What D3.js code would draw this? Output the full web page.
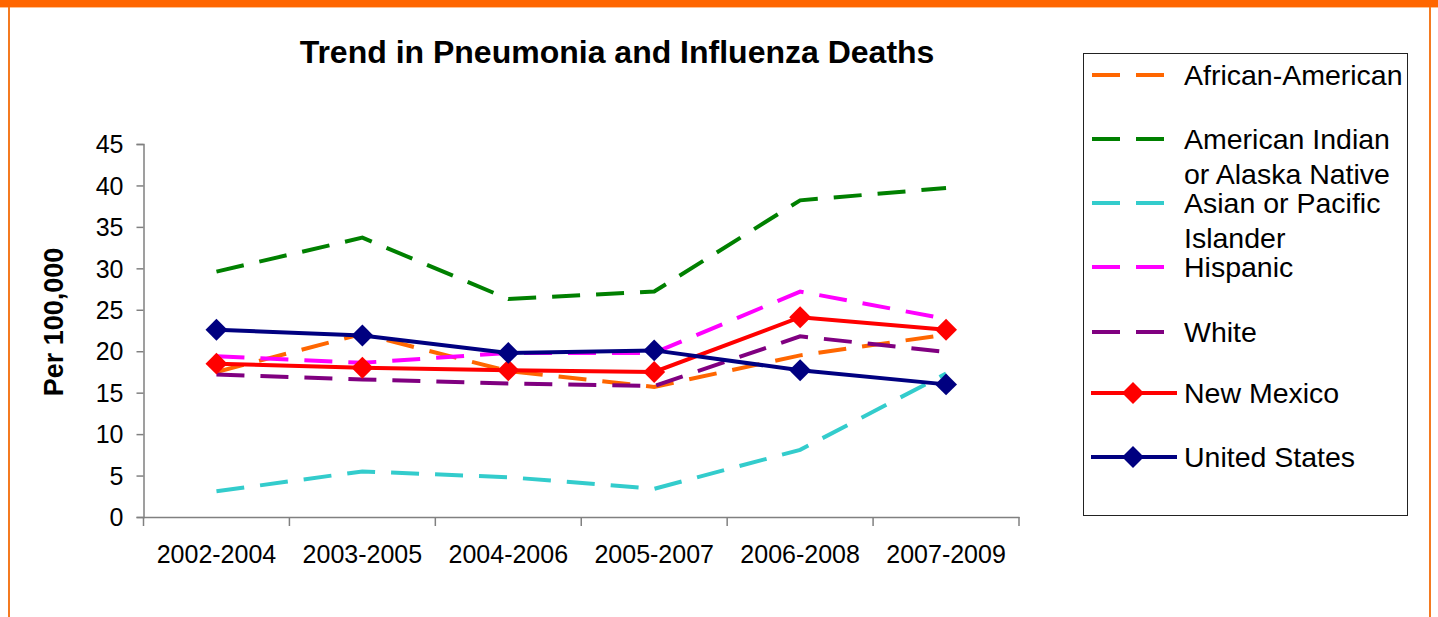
<!DOCTYPE html>
<html>
<head>
<meta charset="utf-8">
<script src="https://cdn.jsdelivr.net/npm/d3@7"></script>
<style>
  body { margin: 0; background: #fff; }
  text { font-family: "Liberation Sans", Arial, sans-serif; fill: #000; }
</style>
</head>
<body>
<div id="chart"></div>
<script>
// data
var categories = ["2002-2004", "2003-2005", "2004-2006", "2005-2007", "2006-2008", "2007-2009"];
var africanAmerican = [17.5, 22.1, 17.6, 15.7, 19.5, 22.0];
var americanIndian = [29.6, 33.7, 26.3, 27.2, 38.2, 39.7];
var asianPacific = [3.1, 5.5, 4.8, 3.4, 8.1, 17.3];
var hispanic = [19.4, 18.6, 19.8, 19.8, 27.2, 23.9];
var white = [17.2, 16.6, 16.1, 15.8, 21.8, 19.9];
var newMexico = [18.5, 18.0, 17.7, 17.5, 24.1, 22.6];
var unitedStates = [22.6, 21.9, 19.8, 20.1, 17.7, 16.0];
var yTicks = [0, 5, 10, 15, 20, 25, 30, 35, 40, 45];

var series = [
  {name: ["African-American"], values: africanAmerican, color: "#FF6600", dashed: true},
  {name: ["American Indian", "or Alaska Native"], values: americanIndian, color: "#008000", dashed: true},
  {name: ["Asian or Pacific", "Islander"], values: asianPacific, color: "#33CCCC", dashed: true},
  {name: ["Hispanic"], values: hispanic, color: "#FF00FF", dashed: true},
  {name: ["White"], values: white, color: "#800080", dashed: true},
  {name: ["New Mexico"], values: newMexico, color: "#FF0000", dashed: false},
  {name: ["United States"], values: unitedStates, color: "#000080", dashed: false}
];

var W = 1438, H = 617;
var svg = d3.select("#chart").append("svg")
    .attr("width", W)
    .attr("height", H);

// orange frame
svg.append("rect").attr("x", 0).attr("y", 0).attr("width", W).attr("height", 7).attr("fill", "#FF6600");
svg.append("line").attr("x1", 0).attr("x2", W).attr("y1", 7.5).attr("y2", 7.5).attr("stroke", "#FFC090");
svg.append("line").attr("x1", 9).attr("x2", 9).attr("y1", 7).attr("y2", H).attr("stroke", "#F47A20").attr("stroke-width", 2);
svg.append("line").attr("x1", 1430).attr("x2", 1430).attr("y1", 7).attr("y2", H).attr("stroke", "#F47A20").attr("stroke-width", 2);

// title
svg.append("text")
  .attr("x", 617).attr("y", 63)
  .attr("text-anchor", "middle")
  .style("font-size", "32px").style("font-weight", "bold")
  .text("Trend in Pneumonia and Influenza Deaths");

// scales
var x = d3.scaleBand().domain(categories).range([143.5, 1019]).padding(0);
var y = d3.scaleLinear().domain([0, 45]).range([517, 144]);
var cx = function(i) { return x(categories[i]) + x.bandwidth() / 2; };

// y axis
var yAxis = svg.append("g")
  .attr("transform", "translate(143.5,0)")
  .call(d3.axisLeft(y).tickValues(yTicks).tickSize(7).tickPadding(13));
yAxis.select(".domain").attr("stroke", "#808080").attr("stroke-width", 1.5);
yAxis.selectAll(".tick line").attr("stroke", "#808080").attr("stroke-width", 1.5);
yAxis.selectAll(".tick text").style("font-size", "25px").attr("dy", "0.35em")
  .style("font-family", "'Liberation Sans', Arial, sans-serif").attr("fill", "#000");

// x axis: labels centred, ticks on category boundaries
var xAxis = svg.append("g")
  .attr("transform", "translate(0,517)")
  .call(d3.axisBottom(x).tickSize(0).tickPadding(28));
xAxis.select(".domain").attr("stroke", "#808080").attr("stroke-width", 1.5);
xAxis.selectAll(".tick text").style("font-size", "25px")
  .style("font-family", "'Liberation Sans', Arial, sans-serif").attr("fill", "#000");
xAxis.selectAll(".boundary")
  .data(d3.range(categories.length + 1))
  .enter().append("line")
  .attr("class", "boundary")
  .attr("x1", function(i) { return x.range()[0] + i * x.step(); })
  .attr("x2", function(i) { return x.range()[0] + i * x.step(); })
  .attr("y1", 0).attr("y2", 9)
  .attr("stroke", "#808080").attr("stroke-width", 1.5);

// y label
svg.append("text")
  .attr("transform", "translate(63,322) rotate(-90)")
  .attr("text-anchor", "middle")
  .style("font-size", "27px").style("font-weight", "bold")
  .text("Per 100,000");

// lines
var line = d3.line()
  .x(function(d, i) { return cx(i); })
  .y(function(d) { return y(d); });

var diamond = d3.symbol().type(d3.symbolSquare).size(240);

series.forEach(function(s) {
  svg.append("path")
    .datum(s.values)
    .attr("d", line)
    .attr("fill", "none")
    .attr("stroke", s.color)
    .attr("stroke-width", 4)
    .attr("stroke-dasharray", s.dashed ? "28,16" : null);
  if (!s.dashed) {
    svg.selectAll(null)
      .data(s.values)
      .enter().append("path")
      .attr("d", diamond)
      .attr("transform", function(d, i) { return "translate(" + cx(i) + "," + y(d) + ") rotate(45)"; })
      .attr("fill", s.color);
  }
});

// legend
var legend = svg.append("g");
legend.append("rect")
  .attr("x", 1083.5).attr("y", 53.5).attr("width", 324).attr("height", 462)
  .attr("fill", "none").attr("stroke", "#222").attr("stroke-width", 1);

var legendY = [75, 139, 203, 267, 332, 393, 457];
series.forEach(function(s, k) {
  var ly = legendY[k];
  var g = legend.append("g");
  if (s.dashed) {
    g.append("line")
      .attr("x1", 1092).attr("x2", 1164).attr("y1", ly).attr("y2", ly)
      .attr("stroke", s.color).attr("stroke-width", 4)
      .attr("stroke-dasharray", "28,16");
  } else {
    g.append("line")
      .attr("x1", 1091).attr("x2", 1177).attr("y1", ly).attr("y2", ly)
      .attr("stroke", s.color).attr("stroke-width", 4);
    g.append("path")
      .attr("d", diamond)
      .attr("transform", "translate(1133," + ly + ") rotate(45)")
      .attr("fill", s.color);
  }
  s.name.forEach(function(t, j) {
    g.append("text")
      .attr("x", 1184).attr("y", ly + 10 + j * 35)
      .style("font-size", "28.5px")
      .text(t);
  });
});
</script>
</body>
</html>
